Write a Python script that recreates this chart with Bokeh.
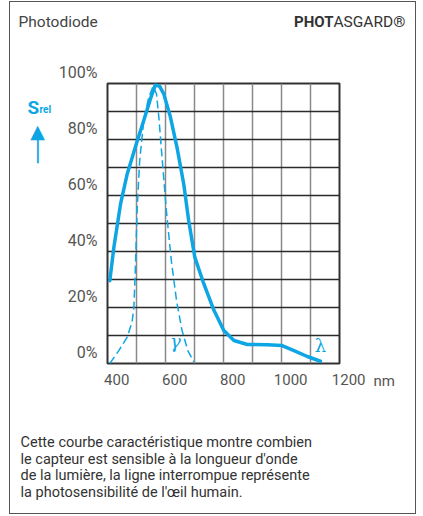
from bokeh.plotting import figure
from bokeh.models import FixedTicker, Label, InlineStyleSheet
from bokeh.embed import file_html
from bokeh.resources import INLINE

# Data
wl_sensor = [408, 422, 445, 468, 500, 525, 548, 565, 580, 594, 617, 640, 663, 680, 701, 732, 767, 801, 836, 882, 951, 1002, 1043, 1089, 1134]
s_sensor = [29.6, 41.5, 57, 67.7, 78.7, 86.8, 94.5, 99.5, 99, 96.3, 88, 77, 64, 51, 38, 28.5, 19, 11.8, 8.2, 6.8, 6.7, 6.4, 4.6, 2.5, 0.8]

wl_eye = [408, 439, 468, 485, 491, 497, 502, 511, 525, 542, 557, 569, 577, 589, 603, 620, 638, 657, 677, 698]
s_eye = [0, 4.6, 9.4, 15, 20, 36.8, 54.6, 72.5, 86.8, 95, 99, 96.3, 88, 72.5, 54.6, 36.8, 22.5, 11.8, 4.6, 0.5]

x_ticks = [400, 600, 800, 1000, 1200]
x_grid = [400, 500, 600, 700, 800, 900, 1000, 1100, 1200]
y_ticks = [0, 20, 40, 60, 80, 100]
y_grid = [0, 10, 20, 30, 40, 50, 60, 70, 80, 90, 100]

description = ["Cette courbe caractéristique montre combien",
               "le capteur est sensible à la longueur d'onde",
               "de la lumière, la ligne interrompue représente",
               "la photosensibilité de l'œil humain."]

BLUE = "#0ea5e4"
FONT = "Roboto"

W, H = 423, 516
L, R, T, B = 107, 84, 83, 153
x0, x1, y0, y1 = 400, 1200, 0, 100
kx = (W - L - R) / (x1 - x0)
ky = (H - T - B) / (y1 - y0)

def dx(px):
    return x0 + (px - L) / kx

def dy(py):
    return (H - B - py) / ky

frame_css = InlineStyleSheet(css=":host::after { content: ''; position: absolute; left: 9px; top: 1px; "
                                 "width: 405px; height: 511px; border: 1.5px solid #555555; pointer-events: none; }")

p = figure(width=W, height=H, x_range=(x0, x1), y_range=(y0, y1),
           output_backend="svg", toolbar_location=None,
           min_border_left=L, min_border_right=R, min_border_top=T, min_border_bottom=B,
           margin=0, stylesheets=[frame_css])
p.background_fill_color = "white"
p.border_fill_color = "white"
p.outline_line_color = "#333333"
p.outline_line_width = 2

p.xaxis.ticker = FixedTicker(ticks=x_ticks)
p.yaxis.ticker = FixedTicker(ticks=y_ticks)
p.yaxis.major_label_overrides = {v: f"{v}%\n" for v in y_ticks}
p.xaxis.major_label_overrides = {v: "\u2002\u2002\u2009" + str(v) for v in x_ticks}
for ax in (p.xaxis, p.yaxis):
    ax.axis_line_color = None
    ax.major_tick_line_color = None
    ax.minor_tick_line_color = None
    ax.major_tick_out = 0
    ax.major_tick_in = 0
    ax.minor_tick_out = 0
    ax.major_label_text_font = FONT
    ax.major_label_text_color = "#555555"
p.xaxis.major_label_standoff = 7
p.yaxis.major_label_standoff = 10
p.xaxis.major_label_text_font_size = "15px"
p.yaxis.major_label_text_font_size = "16px"

p.xgrid.ticker = FixedTicker(ticks=x_grid)
p.ygrid.ticker = FixedTicker(ticks=y_grid)
p.xgrid.grid_line_color = "#8a8a8a"
p.xgrid.grid_line_width = 1.5
p.ygrid.grid_line_color = "#2a2a2a"
p.ygrid.grid_line_width = 1.3

p.line(wl_eye, s_eye, line_color=BLUE, line_width=1.5, line_dash="8 4")
p.line(wl_sensor, s_sensor, line_color=BLUE, line_width=3.5, line_join="round", line_cap="round")

def lab(px, py, text, size, color="#444444", align="left", baseline="alphabetic",
        style="normal", font=FONT, place="center"):
    p.add_layout(Label(x=dx(px), y=dy(py), text=text, text_font=font, text_font_size=size,
                       text_color=color, text_align=align, text_baseline=baseline,
                       text_font_style=style), place)

# curve markers (inside the plot area)
lab(175, 341, "γ", "18px", BLUE, "center", "middle", "italic", "DejaVu Serif")
lab(320, 345, "λ", "18px", BLUE, "center", "middle", "normal", "DejaVu Serif")

# axis unit
lab(373, 380, "nm", "15px", "#555555", place="below")

# S_rel and upward arrow
lab(27, 107, "S", "19px", BLUE, style="bold", place="left")
lab(39, 109, "rel", "10px", BLUE, style="bold", place="left")
lab(37, 150, "│", "22px", BLUE, "center", "middle", font="DejaVu Sans Mono", place="right")
lab(37, 130, "▲", "19px", BLUE, "center", "middle", font="DejaVu Sans", place="right")

# header
lab(18, 21, "Photodiode", "15.5px", "#444444", place="above")
lab(333, 21, "PHOT", "15px", "#333333", "right", style="bold", place="above")
lab(333, 21, "ASGARD®", "15.5px", "#333333", place="above")

# description
for i, t in enumerate(description):
    lab(20, 442 + i * 16.7, t, "14.5px", "#333333", baseline="middle", place="below")

open("out.html", "w").write(file_html(p, INLINE))
